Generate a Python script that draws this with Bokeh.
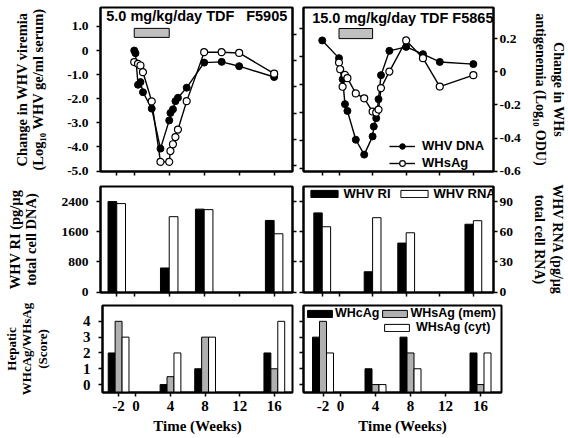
from bokeh.plotting import figure
from bokeh.layouts import column, row
from bokeh.models import (Range1d, LinearAxis, FixedTicker, Legend, LegendItem, Label,
                          AllLabels)
from bokeh.embed import file_html
from bokeh.resources import INLINE

# ---------------- data ----------------
WEEK_TICKS = [-2, 0, 4, 8, 12, 16]
WEEK_LABELS = ["-2", "0", "4", "8", "12", "16"]
TREATMENT_WEEKS = (0, 4)

TITLE_A = "5.0 mg/kg/day TDF"
ID_A = "F5905"
TITLE_B = "15.0 mg/kg/day TDF F5865"

# Panel A (F5905): change in log10 units
A_DNA_WEEKS = [0, 0.14, 0.43, 0.71, 1, 2, 3, 4, 4.14, 4.43, 4.71, 5, 6, 8, 10, 12, 16]
A_DNA = [0.0, -0.11, -1.42, -1.31, -1.73, -2.41, -4.07, -2.90, -2.59, -2.44, -2.10,
         -1.96, -1.54, -0.50, -0.47, -0.65, -1.10]
A_SAG_WEEKS = [0, 0.43, 0.71, 1, 2, 3, 4, 4.14, 4.43, 4.71, 5, 6, 8, 10, 12, 16]
A_SAG = [-0.48, -0.55, -0.62, -0.90, -2.11, -4.62, -4.62, -4.17, -3.89, -3.59, -3.28,
         -2.10, -0.07, -0.07, -0.10, -0.96]

# Panel B (F5865): change in log10 ODU
B_DNA_WEEKS = [-2, 0, 0.43, 0.71, 1, 2, 3, 4, 4.14, 4.43, 4.71, 5, 6, 8, 10, 12, 16]
B_DNA = [0.19, 0.083, -0.044, -0.195, -0.236, -0.41, -0.50, -0.39, -0.33, -0.28, -0.165,
         -0.02, 0.127, 0.151, 0.107, 0.06, 0.047]
B_SAG_WEEKS = [0, 0.14, 0.43, 0.71, 1, 2, 3, 4, 4.43, 4.71, 5, 6, 8, 10, 12, 16]
B_SAG = [0.056, 0.016, -0.09, -0.018, -0.038, -0.13, -0.16, -0.24, -0.246, -0.228, -0.098,
         0.002, 0.19, 0.083, -0.089, -0.02]

# Liver biopsies
BAR_WEEKS = [-2, 4, 8, 16]
A_RI = [2400, 640, 2200, 1900]
A_RNA = [88, 75, 82, 58]
B_RI = [2100, 540, 1300, 1800]
B_RNA = [65, 74, 59, 71]

A_HBC = [2, 0, 1, 2]
A_HBS_MEM = [4, 0.5, 3, 1]
A_HBS_CYT = [3, 2, 3, 4]
B_HBC = [3, 1, 3, 2]
B_HBS_MEM = [4, 0, 2, 0]
B_HBS_CYT = [2, 0, 1, 2]

# axis ticks and labels
VIREMIA_TICKS = [-5.0, -4.0, -3.0, -2.0, -1.0, 0.0, 1.0]
VIREMIA_LABELS = ["-5.0", "-4.0", "-3.0", "-2.0", "-1.0", "0", "1.0"]
ODU_TICKS = [-0.6, -0.4, -0.2, 0.0, 0.2]
ODU_LABELS = ["-0.6", "-0.4", "-0.2", "0", "0.2"]
RI_TICKS = [0.0, 800.0, 1600.0, 2400.0]
RI_LABELS = ["0", "800", "1600", "2400"]
RNA_TICKS = [0.0, 30.0, 60.0, 90.0]
RNA_LABELS = ["0", "30", "60", "90"]
SCORE_TICKS = [0, 1, 2, 3, 4]
SCORE_LABELS = ["0", "1", "2", "3", "4"]

# ---------------- styling ----------------
SERIF = "Liberation Serif"
SANS = "Liberation Sans"
TREAT_GRAY = "#c0c0c0"
MEM_GRAY = "#b0b0b0"

XR_L = (-3.86, 18.1)
XR_R = (-4.23, 18.4)

LW, RW = 298, 270          # column widths
TH, MH, BH = 181, 121, 136  # row heights


def make_fig(w, h, xr, yr, mbl, mbr, mbt, mbb, yloc="left"):
    p = figure(width=w, height=h, x_range=Range1d(*xr), y_range=Range1d(*yr),
               output_backend="svg", toolbar_location=None, y_axis_location=yloc,
               min_border_left=mbl, min_border_right=mbr,
               min_border_top=mbt, min_border_bottom=mbb)
    p.grid.visible = False
    p.outline_line_color = "black"
    p.outline_line_width = 2
    p.background_fill_color = "white"
    p.border_fill_color = "white"
    return p


def style_axis(ax, ticks, labels=None, size="13.5px", standoff=6):
    ax.ticker = FixedTicker(ticks=list(ticks))
    ax.minor_tick_line_color = None
    ax.major_tick_in = 0
    ax.major_tick_out = 4
    ax.major_tick_line_width = 1.5
    ax.major_tick_line_color = "black"
    ax.axis_line_width = 2
    ax.axis_line_color = "black"
    ax.axis_label_standoff = 0
    if "background_fill_color" in ax.properties():
        ax.background_fill_color = None
    if labels is None:
        ax.major_label_text_color = None
        ax.major_label_text_font_size = "1px"
        ax.major_label_standoff = 0
    else:
        ax.level = "annotation"
        ax.major_label_policy = AllLabels()
        ax.major_label_overrides = {t: l for t, l in zip(ticks, labels)}
        ax.major_label_text_font = SERIF
        ax.major_label_text_font_style = "bold"
        ax.major_label_text_font_size = size
        ax.major_label_text_color = "black"
        ax.major_label_text_line_height = 1.0
        ax.major_label_standoff = standoff


def title_axis(ax, text, standoff, size="14.5px", lh=1.0):
    ax.axis_label = text
    ax.axis_label_text_font = SERIF
    ax.axis_label_text_font_style = "bold"
    ax.axis_label_text_font_size = size
    ax.axis_label_text_line_height = lh
    ax.axis_label_standoff = standoff
    ax.axis_label_text_color = "black"


def time_series(p, dna_w, dna, sag_w, sag):
    l1 = p.line(dna_w, dna, line_color="black", line_width=1.4)
    l2 = p.line(sag_w, sag, line_color="black", line_width=1.4)
    c1 = p.scatter(dna_w, dna, size=7, marker="circle", fill_color="black", line_color="black")
    c2 = p.scatter(sag_w, sag, size=7, marker="circle", fill_color="white", line_color="black",
                   line_width=1.2)
    return (l1, c1), (l2, c2)


def legend(items, loc, orient, gw, gh, lh, standoff, spacing, size="13px"):
    return Legend(items=items, location=loc, orientation=orient, glyph_width=gw,
                  glyph_height=gh, label_height=lh, label_standoff=standoff,
                  spacing=spacing, padding=0, margin=0, border_line_color=None,
                  background_fill_alpha=0, label_text_font=SANS,
                  label_text_font_style="bold", label_text_font_size=size,
                  label_text_color="black", label_text_baseline="middle")


# ---------------- top left ----------------
pA = make_fig(LW, TH, XR_L, (-5.02, 1.786), 100, 6, 7, 10)
pA.extra_y_ranges = {"odu": Range1d(-0.846, 0.406)}
pA.quad(left=TREATMENT_WEEKS[0], right=TREATMENT_WEEKS[1], bottom=0.545, top=0.92,
        fill_color=TREAT_GRAY, line_color="black", line_width=1)
time_series(pA, A_DNA_WEEKS, A_DNA, A_SAG_WEEKS, A_SAG)
style_axis(pA.xaxis[0], WEEK_TICKS)
style_axis(pA.yaxis[0], VIREMIA_TICKS, VIREMIA_LABELS, standoff=8)
title_axis(pA.yaxis[0], "Change in WHV viremia\n(Log\u2081\u2080 WHV ge/ml serum)", 18)
axA = LinearAxis(y_range_name="odu")
style_axis(axA, [-0.8, -0.6, -0.4, -0.2, 0, 0.2])
pA.add_layout(axA, "right")
pA.add_layout(Label(x=-3.2, y=1.42, text=TITLE_A, text_font=SANS, text_font_style="bold",
                    text_font_size="14.5px", text_baseline="middle", text_color="black"))
pA.add_layout(Label(x=17.5, y=1.42, text=ID_A, text_font=SANS, text_font_style="bold",
                    text_font_size="14.5px", text_baseline="middle", text_align="right",
                    text_color="black"))

# ---------------- top right ----------------
pB = make_fig(RW, TH, XR_R, (-0.602, 0.389), 5, 67, 7, 10, yloc="right")
pB.extra_y_ranges = {"dna": Range1d(-4.107, 1.75)}
pB.quad(left=TREATMENT_WEEKS[0], right=TREATMENT_WEEKS[1], bottom=0.201, top=0.262,
        fill_color=TREAT_GRAY, line_color="black", line_width=1)
(dl, dc), (sl, sc) = time_series(pB, B_DNA_WEEKS, B_DNA, B_SAG_WEEKS, B_SAG)
style_axis(pB.xaxis[0], WEEK_TICKS)
style_axis(pB.yaxis[0], ODU_TICKS, ODU_LABELS, size="13.5px", standoff=2)
title_axis(pB.yaxis[0], "Change in WHs\nantigenemia (Log\u2081\u2080 ODU)", 9, size="14px",
           lh=1.2)
axB = LinearAxis(y_range_name="dna")
style_axis(axB, [-4, -3, -2, -1, 0, 1])
pB.add_layout(axB, "left")
pB.add_layout(Label(x=-3.2, y=0.326, text=TITLE_B, text_font=SANS, text_font_style="bold",
                    text_font_size="14.5px", text_baseline="middle", text_color="black"))
pB.add_layout(legend([LegendItem(label="WHV DNA", renderers=[dl, dc]),
                      LegendItem(label="WHsAg", renderers=[sl, sc])],
                     (86, 1), "vertical", 26, 14, 14, 7, 2))

# ---------------- middle ----------------
RI_RANGE = (-10, 2800)
RNA_RANGE = (-0.375, 105)


def middle(p, ri, rna):
    p.extra_y_ranges = {"rna": Range1d(*RNA_RANGE)}
    b1 = p.vbar(x=[w - 0.5 for w in BAR_WEEKS], top=ri, width=1.0, bottom=0,
                fill_color="black", line_color="black", line_width=1)
    b2 = p.vbar(x=[w + 0.5 for w in BAR_WEEKS], top=rna, width=1.0, bottom=0,
                y_range_name="rna", fill_color="white", line_color="black", line_width=1)
    style_axis(p.xaxis[0], WEEK_TICKS)
    return b1, b2


pC = make_fig(LW, MH, XR_L, RI_RANGE, 100, 6, 5, 10)
middle(pC, A_RI, A_RNA)
style_axis(pC.yaxis[0], RI_TICKS, RI_LABELS, standoff=8)
title_axis(pC.yaxis[0], "WHV RI (pg/\u00b5g\ntotal cell DNA)", 20)
axC = LinearAxis(y_range_name="rna")
style_axis(axC, RNA_TICKS)
pC.add_layout(axC, "right")

pD = make_fig(RW, MH, XR_R, RI_RANGE, 5, 67, 5, 10)
bri, brna = middle(pD, B_RI, B_RNA)
style_axis(pD.yaxis[0], RI_TICKS)
axD = LinearAxis(y_range_name="rna")
style_axis(axD, RNA_TICKS, RNA_LABELS, size="13.5px", standoff=2)
title_axis(axD, "WHV RNA (pg/\u00b5g\ntotal cell RNA)", 16, size="14px", lh=1.2)
pD.add_layout(axD, "right")
pD.add_layout(legend([LegendItem(label="WHV RI", renderers=[bri]),
                      LegendItem(label="WHV RNA", renderers=[brna])],
                     (3.6, 91), "horizontal", 34, 9, 14, 3, 6))

# ---------------- bottom ----------------


def bottom(p, hbc, mem, cyt):
    r1 = p.vbar(x=[w - 0.8 for w in BAR_WEEKS], top=hbc, width=0.8, bottom=-0.5,
                fill_color="black", line_color="black", line_width=1)
    r2 = p.vbar(x=BAR_WEEKS, top=mem, width=0.8, bottom=-0.5,
                fill_color=MEM_GRAY, line_color="black", line_width=1)
    r3 = p.vbar(x=[w + 0.8 for w in BAR_WEEKS], top=cyt, width=0.8, bottom=-0.5,
                fill_color="white", line_color="black", line_width=1)
    style_axis(p.xaxis[0], WEEK_TICKS, WEEK_LABELS, size="15px", standoff=4)
    title_axis(p.xaxis[0], "Time (Weeks)", 4, size="15px")
    return r1, r2, r3


pE = make_fig(LW, BH, XR_L, (-0.5, 5.0), 100, 6, 3, 46)
bottom(pE, A_HBC, A_HBS_MEM, A_HBS_CYT)
style_axis(pE.yaxis[0], SCORE_TICKS, SCORE_LABELS, size="15px", standoff=8)
title_axis(pE.yaxis[0], "Hepatic\nWHcAg/WHsAg\n(Score)", 30, size="13px", lh=1.05)

pF = make_fig(RW, BH, XR_R, (-0.5, 5.0), 5, 67, 3, 46)
r1, r2, r3 = bottom(pF, B_HBC, B_HBS_MEM, B_HBS_CYT)
style_axis(pF.yaxis[0], SCORE_TICKS)
pF.add_layout(legend([LegendItem(label="WHcAg", renderers=[r1]),
                      LegendItem(label="WHsAg (mem)", renderers=[r2])],
                     (1, 72), "horizontal", 31, 9, 14, 0, 0, size="12.5px"))
pF.add_layout(legend([LegendItem(label="WHsAg (cyt)", renderers=[r3])],
                     (78, 58), "vertical", 31, 9, 14, 4, 0, size="12.5px"))

layout = column(row(pA, pB), row(pC, pD), row(pE, pF))

with open("out.html", "w") as f:
    f.write(file_html(layout, INLINE))
